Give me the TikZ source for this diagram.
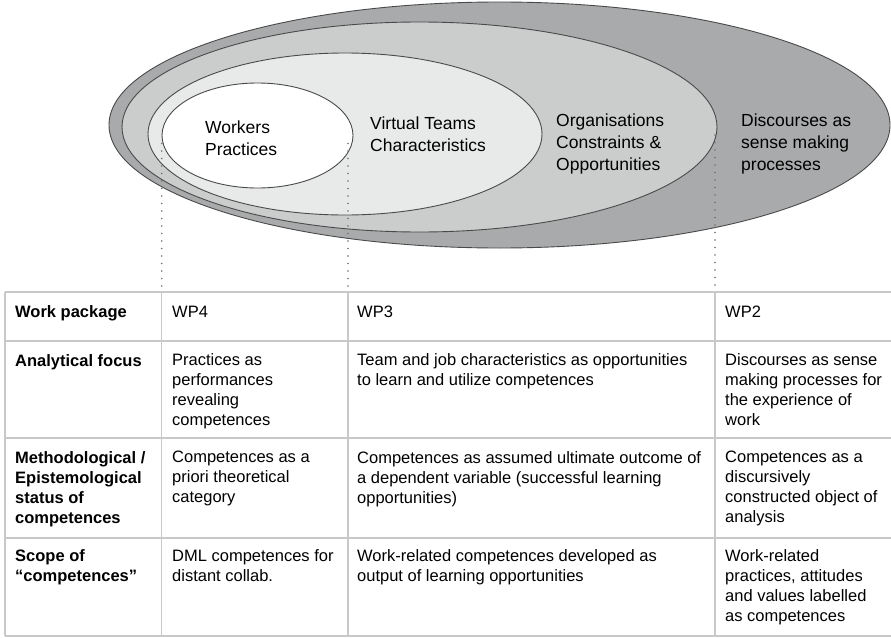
\documentclass[tikz,border=0pt]{standalone}
\usepackage{fontspec}
\setmainfont{Liberation Sans}
\usetikzlibrary{shapes,positioning,calc}
\definecolor{ringdark}{HTML}{A9AAAB}
\definecolor{ringmid}{HTML}{CBCCCC}
\definecolor{ringlight}{HTML}{E8E9E9}
\definecolor{rimline}{HTML}{4A4A4A}
\definecolor{gridline}{HTML}{C8C8C8}
\definecolor{dotline}{HTML}{707070}
\tikzset{
    ring/.style={
        ellipse,
        draw=rimline,
        line width=0.9pt,
        inner sep=0pt,
    },
    ringlabel/.style={
        anchor=north west,
        align=left,
        inner sep=0pt,
        font=\fontsize{17.5}{22}\selectfont,
        execute at begin node={\rule{0pt}{14pt}},
    },
    cell/.style={
        anchor=north west,
        align=left,
        inner sep=0pt,
        font=\fontsize{16.5}{20}\selectfont,
        execute at begin node={\rule{0pt}{13pt}},
    },
    head/.style={
        cell,
        font=\fontsize{16.5}{20}\selectfont\bfseries,
    },
    guide/.style={
        draw=dotline,
        line width=1.8pt,
        line cap=round,
        dash pattern=on 0pt off 7.5pt,
    },
    rule/.style={
        draw=gridline,
        line width=1.3pt,
    },
}

\begin{document}
\begin{tikzpicture}[x=1pt,y=-1pt]
	    \useasboundingbox (0,0) rectangle (891,637);
	    % nested ellipses
	    \node [ring,fill=ringdark,minimum width=781pt,minimum height=246pt] (discourses) at (499.5,125) {};
	    \node [ring,fill=ringmid,minimum width=595pt,minimum height=210pt] (organisations) at (419.5,127) {};
	    \node [ring,fill=ringlight,minimum width=394pt,minimum height=162pt] (teams) at (345,134) {};
	    \node [ring,fill=white,minimum width=191pt,minimum height=105pt] (workers) at (257.5,135.5) {};
	    \node [ringlabel] (workers-l) at (205,121) {Workers\\Practices};
	    \node [ringlabel] (teams-l) at (370,117) {Virtual Teams\\Characteristics};
	    \node [ringlabel] (organisations-l) at (556,114) {Organisations\\Constraints \&\\Opportunities};
	    \node [ringlabel] (discourses-l) at (741,114) {Discourses as\\sense making\\processes};
	    % table frame
	    \coordinate (col0) at (5,292);
	    \coordinate (col1) at (161.7,292);
	    \coordinate (col2) at (348,292);
	    \coordinate (col3) at (715,292);
	    \foreach \y in {292,341,438,538,636}
	        \draw [rule] (5,\y) -- (891,\y);
	    \foreach \c in {col0,col1,col2,col3}
	        \draw [rule] (\c) -- (\c |- 0,636);
	    % guides from the ellipses to the columns
	    \draw [guide] ([yshift=-8pt]col1 |- workers.west) -- ([yshift=2pt]col1);
	    \draw [guide] ([yshift=-8pt]col2 |- workers.east) -- ([yshift=2pt]col2);
	    \draw [guide] ([yshift=-8pt]col3 |- organisations.east) -- ([yshift=2pt]col3);
	    % row 1
	    \node [head] (h1) at (15,304) {Work package};
	    \node [cell] (wp4) at (172,304) {WP4};
	    \node [cell] (wp3) at (357,304) {WP3};
	    \node [cell] (wp2) at (725,304) {WP2};
	    % row 2
	    \node [head] (h2) at (15,353) {Analytical focus};
	    \node [cell] (focus4) at (172,353) {Practices as\\performances\\revealing\\competences};
	    \node [cell] (focus3) at (357,353) {Team and job characteristics as opportunities\\to learn and utilize competences};
	    \node [cell] (focus2) at (725,353) {Discourses as sense\\making processes for\\the experience of\\work};
	    % row 3
	    \node [head] (h3) at (15,451) {Methodological /\\Epistemological\\status of\\competences};
	    \node [cell] (status4) at (172,451) {Competences as a\\priori theoretical\\category};
	    \node [cell] (status3) at (357,451) {Competences as assumed ultimate outcome of\\a dependent variable (successful learning\\opportunities)};
	    \node [cell] (status2) at (725,451) {Competences as a\\discursively\\constructed object of\\analysis};
	    % row 4
	    \node [head] (h4) at (15,549) {Scope of\\“competences”};
	    \node [cell] (scope4) at (172,549) {DML competences for\\distant collab.};
	    \node [cell] (scope3) at (357,549) {Work-related competences developed as\\output of learning opportunities};
	    \node [cell] (scope2) at (725,549) {Work-related\\practices, attitudes\\and values labelled\\as competences};
\end{tikzpicture}
\end{document}
